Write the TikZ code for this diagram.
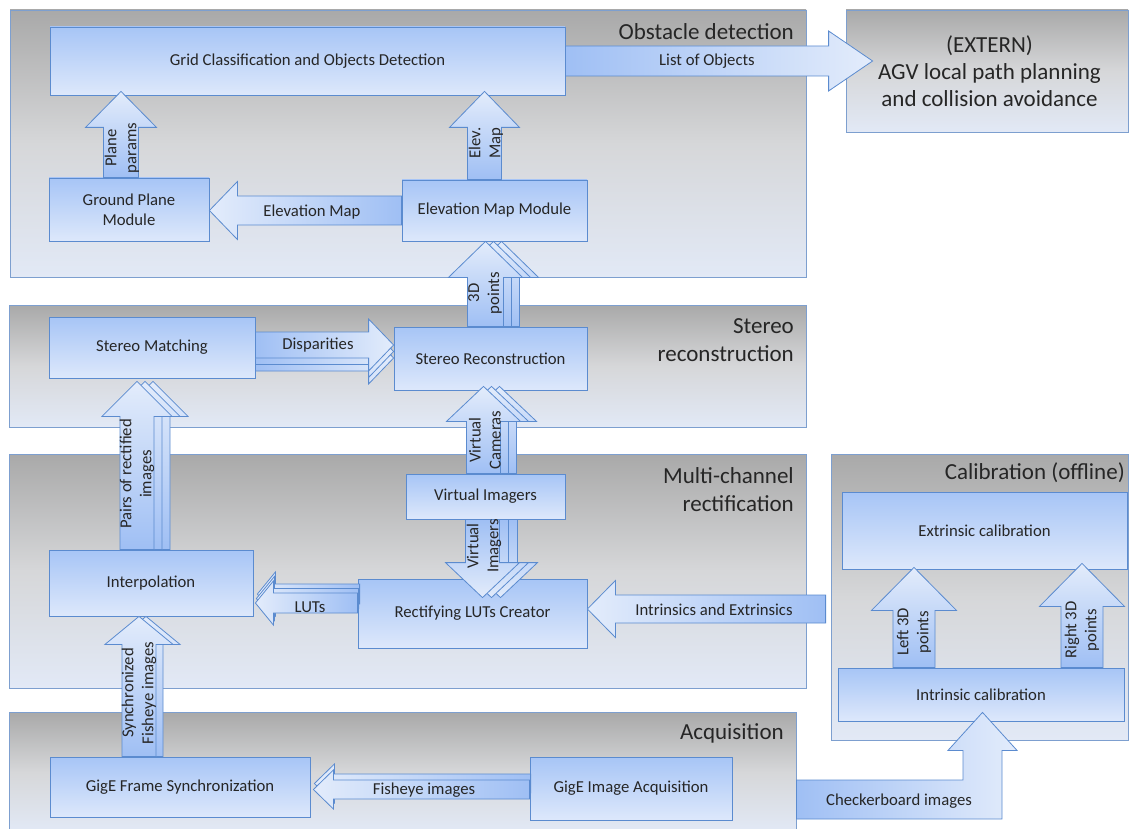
\documentclass[tikz,border=0pt]{standalone}
\usepackage{fontspec}
\setmainfont{Carlito}
\usetikzlibrary{calc}

\definecolor{LineBlue}{HTML}{5B8BCF}
\definecolor{PanelLine}{HTML}{7D9FCF}
\definecolor{PanelTop}{HTML}{A9A9A9}
\definecolor{PanelMid}{HTML}{D6D7D9}
\definecolor{PanelBot}{HTML}{E2E9F6}
\definecolor{BoxTop}{HTML}{A7C5F6}
\definecolor{BoxBot}{HTML}{DDE8FB}
\definecolor{ArrDark}{HTML}{9FBFF4}
\definecolor{ArrLight}{HTML}{E3ECFB}
\definecolor{TextGray}{HTML}{262626}

% #1 body half width, #2 head half width, #3 head length, #4 shading, #5 tail, #6 tip, #7 copies
\newcommand{\BlockArrow}[7]{%
	\foreach \dx/\dy in {#7}{%
		\shade[ArrowStyle, #4]
			let \p1 = ([xshift=\dx, yshift=\dy]#5), \p2 = ([xshift=\dx, yshift=\dy]#6),
				\n1 = {veclen(\x2-\x1,\y2-\y1)}, \n2 = {(\x2-\x1)/\n1}, \n3 = {(\y2-\y1)/\n1},
				\p3 = ({\x2-#3*\n2},{\y2-#3*\n3}) in
			({\x1-#1*\n3},{\y1+#1*\n2}) -- ({\x3-#1*\n3},{\y3+#1*\n2})
			-- ({\x3-#2*\n3},{\y3+#2*\n2}) -- (\p2)
			-- ({\x3+#2*\n3},{\y3-#2*\n2}) -- ({\x3+#1*\n3},{\y3-#1*\n2})
			-- ({\x1+#1*\n3},{\y1-#1*\n2}) -- cycle;
	}%
}

\begin{document}
\begin{tikzpicture}[x = 1pt, y = -1pt]
	\tikzset{PanelStyle/.style =
	{draw = PanelLine,
		top color = PanelTop,
		bottom color = PanelBot,
		middle color = PanelMid,
		line width = 0.8pt,
		text = TextGray,
		font = \fontsize{23}{27}\selectfont,
		align = center},
	TitleStyle/.style =
	{anchor = east,
		inner sep = 0,
		text = TextGray,
		font = \fontsize{23}{28}\selectfont,
		align = right},
	BoxStyle/.style =
	{draw = LineBlue,
		top color = BoxTop,
		bottom color = BoxBot,
		line width = 0.8pt,
		inner sep = 0,
		text = TextGray,
		font = \fontsize{16.7}{20}\selectfont,
		align = center},
	ArrowStyle/.style =
	{draw = LineBlue,
		line width = 0.8pt,
		line join = miter},
	ShadeUp/.style = {bottom color = ArrDark, top color = ArrLight},
	ShadeDown/.style = {top color = ArrDark, bottom color = ArrLight},
	ShadeLeft/.style = {right color = ArrDark, left color = ArrLight},
	ShadeRight/.style = {left color = ArrDark, right color = ArrLight},
	LabelStyle/.style =
	{inner sep = 0,
		text = TextGray,
		font = \fontsize{16.7}{20}\selectfont,
		align = center}}
\useasboundingbox (0,0) rectangle (1130,829);

% groups
\node[PanelStyle, minimum width = 796, minimum height = 267] (obst) at (408,143.5) {};
\node[PanelStyle, minimum width = 282, minimum height = 122] (extern) at (987,71)
	{\hspace*{5pt}(EXTERN)\\\hspace*{5pt}AGV local path planning\\\hspace*{5pt}and collision avoidance};
\node[PanelStyle, minimum width = 797, minimum height = 122] (stereo) at (407.5,366) {};
\node[PanelStyle, minimum width = 797, minimum height = 234] (multi) at (407.5,571) {};
\node[PanelStyle, minimum width = 297, minimum height = 286] (calib) at (979.5,597) {};
\node[PanelStyle, minimum width = 787, minimum height = 120] (acq) at (402.5,772) {};
\node[TitleStyle] (obst-t) at (794,32) {Obstacle detection};
\node[TitleStyle] (stereo-t) at (794,340) {Stereo\\reconstruction};
\node[TitleStyle] (multi-t) at (794,490) {Multi-channel\\rectification};
\node[TitleStyle] (calib-t) at (1125,473) {Calibration (offline)};
\node[TitleStyle] (acq-t) at (784,733) {Acquisition};

% modules
\node[BoxStyle, minimum width = 515, minimum height = 68] (grid) at (307.5,61) {Grid Classification and Objects Detection};
\node[BoxStyle, minimum width = 160, minimum height = 63] (gp) at (129,209.5) {Ground Plane\\Module};
\node[BoxStyle, minimum width = 185, minimum height = 61] (emm) at (494.5,210.5) {Elevation Map Module};
\node[BoxStyle, minimum width = 206, minimum height = 61] (sm) at (152,347.5) {Stereo Matching};
\node[BoxStyle, minimum width = 193, minimum height = 63] (sr) at (490.5,358.5) {Stereo Reconstruction};
\node[BoxStyle, minimum width = 159, minimum height = 45] (vi) at (485.5,496.5) {Virtual Imagers};
\node[BoxStyle, minimum width = 204, minimum height = 66] (interp) at (151,583) {Interpolation};
\node[BoxStyle, minimum width = 229, minimum height = 69] (rlc) at (472.5,613.5) {Rectifying LUTs Creator};
\node[BoxStyle, minimum width = 260, minimum height = 60] (gfs) at (180,787) {GigE Frame Synchronization};
\node[BoxStyle, minimum width = 202, minimum height = 63] (gia) at (631,788.5) {GigE Image Acquisition};
\node[BoxStyle, minimum width = 285, minimum height = 77] (extc) at (984.5,530.5) {Extrinsic calibration};
\node[BoxStyle, minimum width = 286, minimum height = 53] (intc) at (981,694.5) {Intrinsic calibration};

% arrow ends
\coordinate[xshift = -8] (plane-a) at (gp.north);
\coordinate[yshift = 4] (plane-b) at (plane-a |- grid.south);
\coordinate[xshift = -10] (elev-a) at (emm.north);
\coordinate[yshift = 4] (elev-b) at (elev-a |- grid.south);
\coordinate[xshift = -5] (pts-a) at (sr.north);
\coordinate (pts-b) at (pts-a |- emm.south);
\coordinate[xshift = -2] (vcam-a) at (vi.north);
\coordinate[yshift = 4] (vcam-b) at (vcam-a |- sr.south);
\coordinate[xshift = -3] (vimg-a) at (vi.south);
\coordinate[yshift = -19] (vimg-b) at (vimg-a |- rlc.north);
\coordinate[xshift = -14] (pairs-a) at (interp.north);
\coordinate[yshift = -3] (pairs-b) at (pairs-a |- sm.south);
\coordinate[xshift = -41] (sync-a) at (gfs.north);
\coordinate (sync-b) at (sync-a |- interp.south);
\coordinate[xshift = -67] (left-a) at (intc.north);
\coordinate[yshift = 2] (left-b) at (left-a |- extc.south);
\coordinate[xshift = 101] (right-a) at (intc.north);
\coordinate[yshift = 6] (right-b) at (right-a |- extc.south);
\coordinate (elevmap-a) at (emm.west);
\coordinate (elevmap-b) at (gp.east |- elevmap-a);
\coordinate[yshift = 10.5] (luts-a) at (rlc.west);
\coordinate[xshift = 2] (luts-b) at (interp.east |- luts-a);
\coordinate[yshift = 4.5] (intr-b) at (rlc.east);
\coordinate[xshift = -5] (intr-a) at (calib.west |- intr-b);
\coordinate[yshift = -1] (fish-a) at (gia.west);
\coordinate[xshift = 3] (fish-b) at (gfs.east |- fish-a);
\coordinate (objs-a) at (grid.east);
\coordinate[xshift = 27] (objs-b) at (extern.west |- objs-a);
\coordinate[yshift = 2.5] (disp-a) at (sm.east);
\coordinate (disp-b) at (sr.west |- disp-a);
\coordinate[xshift = 1.5, yshift = 9] (check-b) at (intc.south);
\coordinate[yshift = -27.5] (check-a) at (acq.east);

% data flow
\BlockArrow{17.5}{35.5}{36}{ShadeUp}{plane-a}{plane-b}{0/0}
\BlockArrow{17}{35}{36}{ShadeUp}{elev-a}{elev-b}{0/0}
\BlockArrow{18}{37}{36}{ShadeUp}{pts-a}{pts-b}{16/0,8/0,0/0}
\BlockArrow{17}{37}{35}{ShadeUp}{vcam-a}{vcam-b}{16/0,8/0,0/0}
\BlockArrow{17}{37}{35}{ShadeDown}{vimg-a}{vimg-b}{18/0,9/0,0/0}
\BlockArrow{17}{35}{35}{ShadeUp}{pairs-a}{pairs-b}{16/0,8/0,0/0}
\BlockArrow{17}{34}{28}{ShadeUp}{sync-a}{sync-b}{7/0,0/0}
\BlockArrow{21}{42.5}{43}{ShadeUp}{left-a}{left-b}{0/0}
\BlockArrow{21}{42.5}{43}{ShadeUp}{right-a}{right-b}{0/0}
\BlockArrow{14.5}{29}{28}{ShadeLeft}{elevmap-a}{elevmap-b}{0/0}
\BlockArrow{10}{22}{18}{ShadeLeft}{luts-a}{luts-b}{2/9,1/4.5,0/0}
\BlockArrow{14}{28.5}{28}{ShadeLeft}{intr-a}{intr-b}{0/0}
\BlockArrow{9.5}{19.5}{20}{ShadeLeft}{fish-a}{fish-b}{1/6,0/0}
\BlockArrow{15}{30}{44}{ShadeRight}{objs-a}{objs-b}{0/0}
\BlockArrow{13}{26}{25}{ShadeRight}{disp-a}{disp-b}{0/-13,0/-6.5,0/0}
\shade[ArrowStyle, ShadeRight] let \p1 = (check-b), \p2 = (check-a) in
	(\x2,\y2+19.5pt) -- (\x1-19.5pt,\y2+19.5pt) -- (\x1-19.5pt,\y1-38pt) -- (\x1-34.5pt,\y1-38pt)
	-- (\p1) -- (\x1+34.5pt,\y1-38pt) -- (\x1+19.5pt,\y1-38pt) -- (\x1+19.5pt,\y2-19.5pt)
	-- (\x2,\y2-19.5pt) -- cycle;

% labels
\node[LabelStyle] (objs-l) at (707,61) {List of Objects};
\node[LabelStyle, rotate = 90] (plane-l) at (122,148) {Plane\\params};
\node[LabelStyle, rotate = 90] (elev-l) at (486,143) {Elev.\\Map};
\node[LabelStyle, rotate = 90] (pts-l) at (485,293) {3D\\points};
\node[LabelStyle, rotate = 90] (vcam-l) at (485,440) {Virtual\\Cameras};
\node[LabelStyle, rotate = 90] (vimg-l) at (484,546) {Virtual\\Imagers};
\node[LabelStyle, rotate = 90] (pairs-l) at (137,474) {Pairs of rectified\\images};
\node[LabelStyle, rotate = 90] (sync-l) at (139,693) {Synchronized\\Fisheye images};
\node[LabelStyle, rotate = 90] (left-l) at (914,632) {Left 3D\\points};
\node[LabelStyle, rotate = 90] (right-l) at (1082,630) {Right 3D\\points};
\node[LabelStyle] (elevmap-l) at (312,212) {Elevation Map};
\node[LabelStyle] (luts-l) at (310,607) {LUTs};
\node[LabelStyle] (intr-l) at (714,610) {Intrinsics and Extrinsics};
\node[LabelStyle] (fish-l) at (424,790) {Fisheye images};
\node[LabelStyle] (disp-l) at (318,345) {Disparities};
\node[LabelStyle] (check-l) at (899,801) {Checkerboard images};

\end{tikzpicture}
\end{document}
